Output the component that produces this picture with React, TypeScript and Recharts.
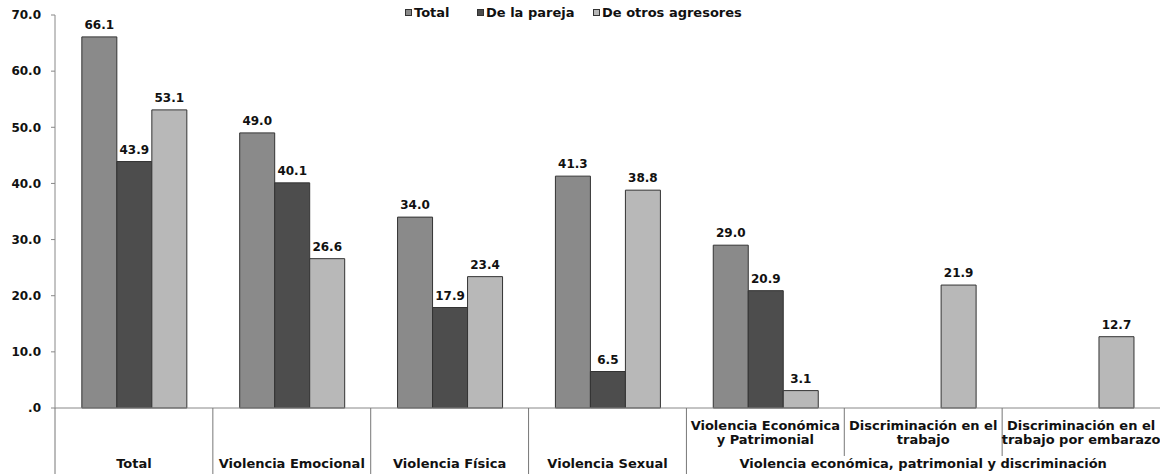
import { BarChart, Bar, XAxis, YAxis, LabelList } from "recharts";

const categories = [
  "Total",
  "Violencia Emocional",
  "Violencia Física",
  "Violencia Sexual",
  "Violencia Económica y Patrimonial",
  "Discriminación en el trabajo",
  "Discriminación en el trabajo por embarazo",
];
const totalValues = [66.1, 49.0, 34.0, 41.3, 29.0, null, null];
const parejaValues = [43.9, 40.1, 17.9, 6.5, 20.9, null, null];
const otrosValues = [53.1, 26.6, 23.4, 38.8, 3.1, 21.9, 12.7];

// second row of the category axis (only for the grouped categories)
const subLabels = [
  [],
  [],
  [],
  [],
  ["Violencia Económica", "y Patrimonial"],
  ["Discriminación en el", "trabajo"],
  ["Discriminación en el", "trabajo por embarazo"],
];
const groupLabels = [
  "Total",
  "Violencia Emocional",
  "Violencia Física",
  "Violencia Sexual",
  "Violencia económica, patrimonial y discriminación",
];
const groupSpans = [1, 1, 1, 1, 3];

const yTicks = [0, 10, 20, 30, 40, 50, 60, 70];

const series = [
  { key: "total", name: "Total", color: "#8a8a8a" },
  { key: "pareja", name: "De la pareja", color: "#4d4d4d" },
  { key: "otros", name: "De otros agresores", color: "#b8b8b8" },
];

const data = categories.map((name, i) => ({
  name,
  total: totalValues[i],
  pareja: parejaValues[i],
  otros: otrosValues[i],
}));

const W = 1160;
const H = 474;
const Y_AXIS_W = 55;
const X_AXIS_H = 66;
const TOP = 15;
const PLOT_BOTTOM = H - X_AXIS_H;
const BAND = (W - Y_AXIS_W) / categories.length;
const FONT = "'DejaVu Sans', Arial, sans-serif";
const LEGEND_LEFT = [405, 477, 593];

const groupStarts: number[] = [];
groupSpans.reduce((acc, s) => {
  groupStarts.push(acc);
  return acc + s;
}, 0);

function CategoryTick(props: any) {
  const { x, index } = props;
  const left = x - BAND / 2;
  const g = groupStarts.indexOf(index);
  const isStart = g >= 0;
  return (
    <g>
      <line
        x1={left}
        x2={left}
        y1={PLOT_BOTTOM}
        y2={isStart ? H : PLOT_BOTTOM + 48}
        stroke="#777"
        strokeWidth={1}
      />
      {subLabels[index].map((t, k) => (
        <text
          key={k}
          x={x}
          y={PLOT_BOTTOM + 22 + k * 14}
          textAnchor="middle"
          fontFamily={FONT}
          fontWeight="bold"
          fontSize={13}
          fill="#111"
        >
          {t}
        </text>
      ))}
      {isStart && (
        <text
          x={left + (groupSpans[g] * BAND) / 2}
          y={H - 6}
          textAnchor="middle"
          fontFamily={FONT}
          fontWeight="bold"
          fontSize={13}
          fill="#111"
        >
          {groupLabels[g]}
        </text>
      )}
    </g>
  );
}

const fmt = (v: any) => (v == null ? "" : Number(v).toFixed(1));

export default function App() {
  return (
    <div style={{ position: "absolute", top: 0, left: 0, width: W, height: H, background: "#fff" }}>
      {series.map((s, i) => (
        <div
          key={s.key}
          style={{
            position: "absolute",
            top: 5,
            left: LEGEND_LEFT[i],
            display: "flex",
            alignItems: "center",
            gap: 2,
            fontFamily: FONT,
            fontWeight: "bold",
            fontSize: 13,
            color: "#111",
            whiteSpace: "nowrap",
            zIndex: 2,
          }}
        >
          <span
            style={{
              display: "inline-block",
              width: 5,
              height: 5,
              background: s.color,
              border: "1px solid #333",
            }}
          />
          <span>{s.name}</span>
        </div>
      ))}
      <BarChart
        width={W}
        height={H}
        data={data}
        margin={{ top: TOP, right: 0, bottom: 0, left: 0 }}
        barGap={0}
        barCategoryGap="17%"
      >
        <XAxis
          dataKey="name"
          interval={0}
          height={X_AXIS_H}
          tickLine={false}
          axisLine={{ stroke: "#888" }}
          tick={CategoryTick}
        />
        <YAxis
          width={Y_AXIS_W}
          domain={[0, 70]}
          ticks={yTicks}
          tickFormatter={(v: number) => (v === 0 ? ".0" : v.toFixed(1))}
          axisLine={{ stroke: "#888" }}
          tickLine={{ stroke: "#888" }}
          tickSize={4}
          tickMargin={10}
          tick={{ fontFamily: FONT, fontWeight: "bold", fontSize: 12, fill: "#111" }}
        />
        {series.map((s) => (
          <Bar
            key={s.key}
            dataKey={s.key}
            name={s.name}
            fill={s.color}
            stroke="#333"
            strokeWidth={1}
            isAnimationActive={false}
          >
            <LabelList
              dataKey={s.key}
              position="top"
              offset={8}
              formatter={fmt}
              style={{ fontFamily: FONT, fontWeight: "bold", fontSize: 12, fill: "#111" }}
            />
          </Bar>
        ))}
      </BarChart>
    </div>
  );
}
